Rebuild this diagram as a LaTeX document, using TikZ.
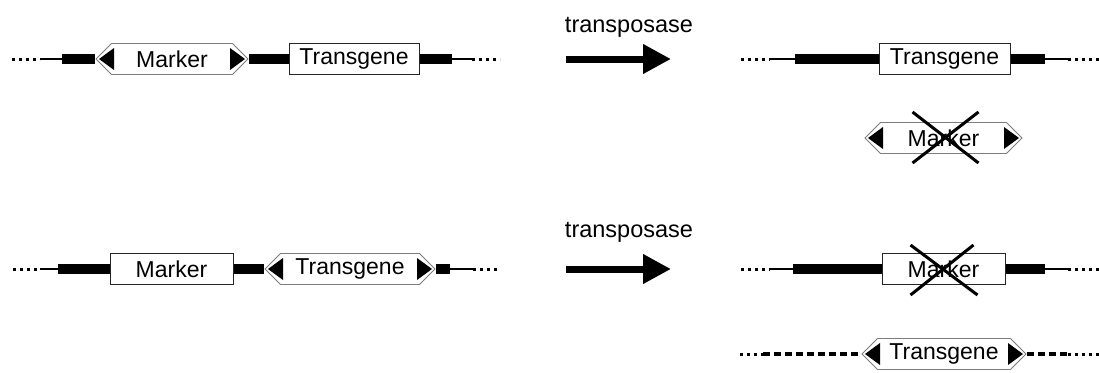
\documentclass[tikz,border=0pt]{standalone}
\usepackage{fontspec}
\setmainfont{Liberation Sans}
\usetikzlibrary{shapes.symbols, arrows.meta, backgrounds}
\definecolor{hexgray}{RGB}{125,125,125}

\tikzset{
  genebox/.style={rectangle, draw=black!85, line width=0.8pt, fill=white, minimum height=31pt, inner sep=0pt, font=\fontsize{23}{27}\selectfont},
  flankbox/.style={signal, signal to=west and east, signal pointer angle=90, draw=hexgray, line width=0.8pt, fill=white, minimum height=31pt, inner sep=0pt, font=\fontsize{23}{27}\selectfont,
    path picture={
      \fill[black] ([xshift=3pt]path picture bounding box.west) -- ++(15pt,11pt) -- ++(0pt,-22pt) -- cycle;
      \fill[black] ([xshift=-3pt]path picture bounding box.east) -- ++(-15pt,11pt) -- ++(0pt,-22pt) -- cycle;}},
  dnathin/.style={line width=2.5pt},
  dnathick/.style={line width=10pt},
  dnaend/.style={line width=3pt, dash pattern=on 3pt off 4pt},
  dnacut/.style={line width=3.5pt, dash pattern=on 7pt off 4pt},
  crossout/.style={line width=3pt},
  bigarrow/.style={line width=7pt, -{Triangle[length=28pt,width=28pt]}},
  enzyme/.style={font=\fontsize{23.5}{27}\selectfont}
}

\begin{document}
\begin{tikzpicture}[x=1pt, y=-1pt]
\useasboundingbox (0,0) rectangle (1099,372);

% Construct 1: marker between the ends
\node[flankbox, minimum width=152pt] (mk1) at (172,59) {Marker};
\node[genebox, minimum width=130pt] (tg1) at (354,59) {Transgene};
\coordinate (l1a) at (12,59);
\coordinate (l1b) at (40,59);
\coordinate (l1c) at (62,59);
\coordinate (l1d) at (452,59);
\coordinate (l1e) at (472,59);
\coordinate (l1f) at (500,59);

% Construct 2: transgene between the ends
\node[genebox, minimum width=123pt] (mk3) at (171.5,269) {Marker};
\node[flankbox, minimum width=170pt] (tg3) at (350,269) {Transgene};
\coordinate (l2a) at (13,269);
\coordinate (l2b) at (40,269);
\coordinate (l2c) at (58,269);
\coordinate (l2d) at (450,269);
\coordinate (l2e) at (473,269);
\coordinate (l2f) at (500,269);

% Transposase arrows
\node[enzyme] (tp1) at (629,27) {transposase};
\coordinate (a1s) at (566,59);
\coordinate (a1e) at (671,59);
\draw[bigarrow] (a1s) -- (a1e);
\node[enzyme] (tp2) at (629,232) {transposase};
\coordinate (a2s) at (566,269);
\coordinate (a2e) at (671,269);
\draw[bigarrow] (a2s) -- (a2e);

% Results 1
\node[genebox, minimum width=131pt] (tg2) at (944.5,59) {Transgene};
\coordinate (r1a) at (741,59);
\coordinate (r1b) at (770,59);
\coordinate (r1c) at (795,59);
\coordinate (r1d) at (1045,59);
\coordinate (r1e) at (1068,59);
\coordinate (r1f) at (1099,59);
\node[flankbox, minimum width=157pt] (mk2) at (943.5,138) {Marker};
\draw[crossout] ([shift={(-31,-26)}]mk2.center) -- ([shift={(35,25)}]mk2.center);
\draw[crossout] ([shift={(35,-26)}]mk2.center) -- ([shift={(-31,25)}]mk2.center);

% Results 2
\node[genebox, minimum width=123pt] (mk4) at (943.5,269) {Marker};
\coordinate (r2a) at (741,269);
\coordinate (r2b) at (770,269);
\coordinate (r2c) at (793,269);
\coordinate (r2d) at (1045,269);
\coordinate (r2e) at (1068,269);
\coordinate (r2f) at (1099,269);
\draw[crossout] ([shift={(-33,-24)}]mk4.center) -- ([shift={(34,26)}]mk4.center);
\draw[crossout] ([shift={(30,-24)}]mk4.center) -- ([shift={(-33,26)}]mk4.center);
\node[flankbox, minimum width=164pt] (tg4) at (944,354) {Transgene};
\coordinate (r3a) at (740,354);
\coordinate (r3b) at (763,354);
\coordinate (r3c) at (1068,354);
\coordinate (r3d) at (1099,354);

% DNA strands behind the boxes
\begin{scope}[on background layer]
\draw[dnaend] (l1a) -- (l1b);
\draw[dnathin] (l1b) -- (l1c);
\draw[dnathick] (l1c) -- (mk1.west);
\draw[dnathick] (mk1.east) -- (tg1.west);
\draw[dnathick] (tg1.east) -- (l1d);
\draw[dnathin] (l1d) -- (l1e);
\draw[dnaend] (l1e) -- (l1f);

\draw[dnaend] (l2a) -- (l2b);
\draw[dnathin] (l2b) -- (l2c);
\draw[dnathick] (l2c) -- (mk3.west);
\draw[dnathick] (mk3.east) -- (tg3.west);
\draw[dnathick] (tg3.east) -- (l2d);
\draw[dnathin] (l2d) -- (l2e);
\draw[dnaend] (l2e) -- (l2f);

\draw[dnaend] (r1a) -- (r1b);
\draw[dnathin] (r1b) -- (r1c);
\draw[dnathick] (r1c) -- (tg2.west);
\draw[dnathick] (tg2.east) -- (r1d);
\draw[dnathin] (r1d) -- (r1e);
\draw[dnaend] (r1e) -- (r1f);

\draw[dnaend] (r2a) -- (r2b);
\draw[dnathin] (r2b) -- (r2c);
\draw[dnathick] (r2c) -- (mk4.west);
\draw[dnathick] (mk4.east) -- (r2d);
\draw[dnathin] (r2d) -- (r2e);
\draw[dnaend] (r2e) -- (r2f);

\draw[dnaend] (r3a) -- (r3b);
\draw[dnacut] (r3b) -- (tg4.west);
\draw[dnacut] (tg4.east) -- (r3c);
\draw[dnaend] (r3c) -- (r3d);
\end{scope}
\end{tikzpicture}
\end{document}
